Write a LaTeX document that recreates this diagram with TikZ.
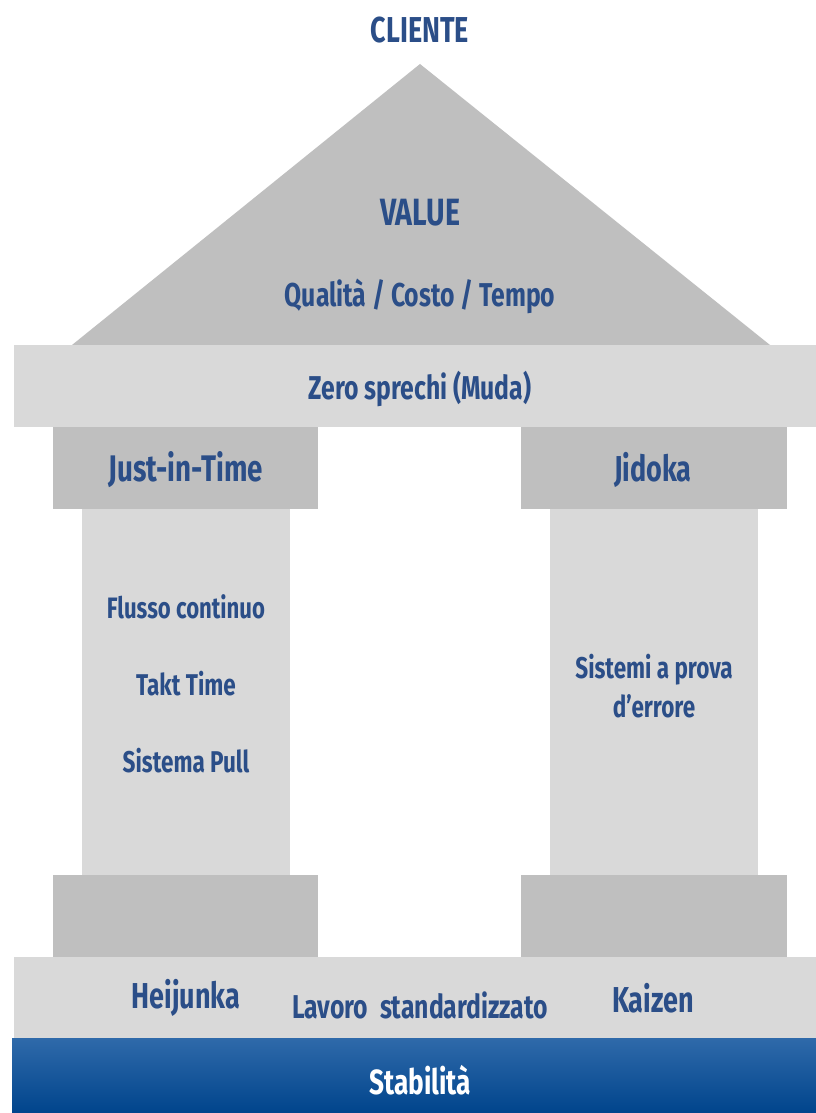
\documentclass[tikz,border=0pt]{standalone}
\usepackage{fontspec}
\setmainfont{Fira Sans}[FakeStretch=0.75]
\definecolor{lightgray}{HTML}{D9D9D9}
\definecolor{midgray}{HTML}{BFBFBF}
\definecolor{inkblue}{HTML}{2B4E88}
\definecolor{basetop}{HTML}{2F6AAA}
\definecolor{basebot}{HTML}{00448C}
\begin{document}
\begin{tikzpicture}[x=1pt,y=-1pt,
  label/.style={text=inkblue,font=\bfseries\fontsize{#1}{#1}\selectfont,inner sep=0pt,anchor=center},
  label/.default=30]
\useasboundingbox (0,0) rectangle (816,1113);
\fill[white] (0,0) rectangle (816,1113);
% roof
\fill[midgray] (420,64) -- (770,345) -- (72,345) -- cycle;
% architrave
\fill[lightgray] (14,345) rectangle (816,427);
% capitals
\fill[midgray] (53,427) rectangle (318,509);
\fill[midgray] (521,427) rectangle (787,509);
% shafts
\fill[lightgray] (82,509) rectangle (290,875);
\fill[lightgray] (550,509) rectangle (758,875);
% pedestals
\fill[midgray] (53,875) rectangle (318,957);
\fill[midgray] (521,875) rectangle (787,957);
% floor
\fill[lightgray] (14,957) rectangle (816,1038);
% foundation
\shade[top color=basetop,bottom color=basebot] (12,1038) rectangle (816,1113);

\node[label=36] (cliente) at (420,30) {CLIENTE};
\node[label=38] (value) at (420,213) {VALUE};
\node[label=33] (qct) at (420,296) {Qualità / Costo / Tempo};
\node[label=33] (muda) at (420,389) {Zero sprechi (Muda)};
\node[label=37] (jit) at (186,470) {Just-in-Time};
\node[label=36] (jidoka) at (653,470) {Jidoka};
\node[label=29.5] (flusso) at (186,607) {Flusso continuo};
\node[label=30] (takt) at (186,684) {Takt Time};
\node[label=30] (pull) at (186,761) {Sistema Pull};
\node[label=30,align=center] (poka) at (654,686) {Sistemi a prova\\[9pt]d’errore};
\node[label=36] (heijunka) at (186,998) {Heijunka};
\node[label=33] (lavoro) at (420,1005) {Lavoro\ \ standardizzato};
\node[label=36] (kaizen) at (653,998) {Kaizen};
\node[label=35,text=white] (stab) at (420,1080) {Stabilità};
\end{tikzpicture}
\end{document}
